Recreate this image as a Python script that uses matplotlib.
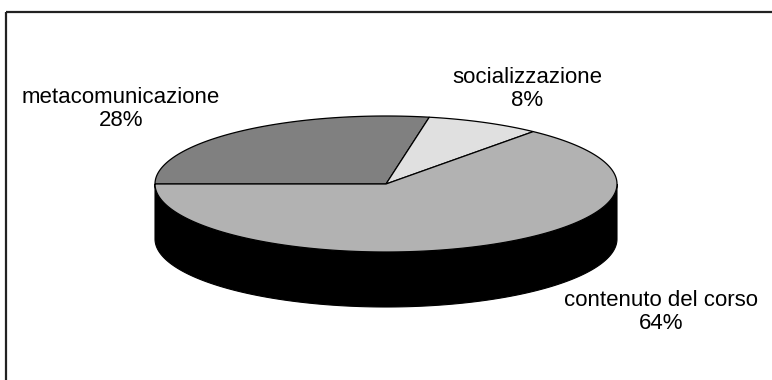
import numpy as np
import matplotlib
matplotlib.use("Agg")
import matplotlib.pyplot as plt
from matplotlib.patches import Polygon, Rectangle

labels = ["metacomunicazione", "socializzazione", "contenuto del corso"]
shares = [28, 8, 64]
top_colors = ["#808080", "#e0e0e0", "#b2b2b2"]
side_color = "#000000"

# label anchor points (pixels) for each slice
label_xy = [(121, 109), (527, 89), (661, 312)]

W, H = 772, 380
cx, cy = 386, 184     # centre of top ellipse
ra, rb = 231, 68      # semi-axes
depth = 55            # thickness of the disc

plt.rcParams["font.family"] = ["Liberation Sans", "DejaVu Sans"]

fig = plt.figure(figsize=(W / 100, H / 100), dpi=100)
ax = fig.add_axes([0, 0, 1, 1])
ax.set_xlim(0, W)
ax.set_ylim(H, 0)
ax.axis("off")

# chart frame (runs off the right and bottom edges)
ax.add_patch(Rectangle((5.5, 11.5), 900, 500, fill=False, ec="#222222", lw=1.6))


def ell(t, dy=0.0):
    t = np.radians(t)
    return np.column_stack([cx + ra * np.cos(t), cy + dy - rb * np.sin(t)])


# side wall: front half of the disc
t = np.linspace(180, 360, 200)
wall = np.vstack([ell(t), ell(t[::-1], depth)])
ax.add_patch(Polygon(wall, closed=True, fc=side_color, ec="black", lw=0.8))

# top wedges, clockwise from 9 o'clock
start = 180.0
for share, col in zip(shares, top_colors):
    sweep = share / sum(shares) * 360
    t = np.linspace(start, start - sweep, max(int(sweep * 2), 4))
    pts = np.vstack([[cx, cy], ell(t)])
    ax.add_patch(Polygon(pts, closed=True, fc=col, ec="black", lw=0.9))
    start -= sweep

for name, share, (lx, ly) in zip(labels, shares, label_xy):
    ax.text(lx, ly, f"{name}\n{share}%", ha="center", va="center",
            fontsize=16, linespacing=1.1, color="black")

fig.savefig("out.png", dpi=100)
